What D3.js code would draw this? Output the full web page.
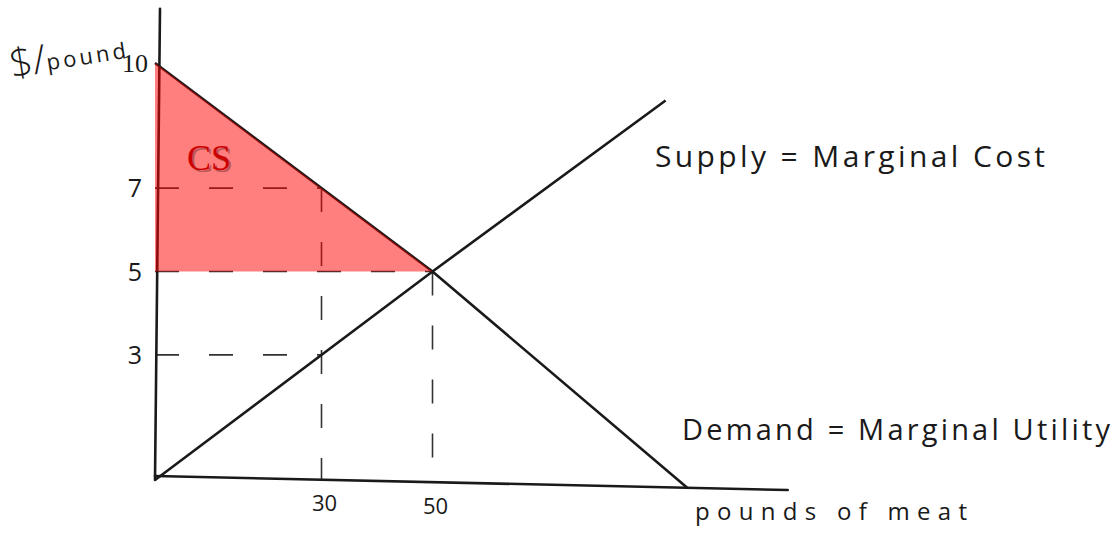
<!DOCTYPE html>
<html>
<head>
<meta charset="utf-8">
<script src="https://cdn.jsdelivr.net/npm/d3@7"></script>
<style>
  body { margin: 0; background: #fff; }
  svg { display: block; }
  .hand { font-family: "Open Sans", "DejaVu Sans", sans-serif; fill: #1a1a1a; }
</style>
</head>
<body>
<svg id="chart" width="1119" height="533"></svg>
<script>
// price ticks on the left, quantity ticks along the bottom
var priceTicks = [10, 7, 5, 3];
var qtyTicks = [30, 50];

// curves (q = pounds of meat, p = $/pound)
var demand = [{q: 0, p: 10}, {q: 50, p: 5}, {q: 96, p: -0.2}];
var supply = [{q: 0, p: 0}, {q: 50, p: 5}, {q: 92, p: 9.1}];

// dashed guide points
var guides = [{q: 30, p: 7}, {q: 30, p: 3}, {q: 50, p: 5}];

// consumer surplus triangle
var csArea = [{q: 0, p: 10}, {q: 50, p: 5}, {q: 0, p: 5}];

var axisMax = {q: 114, p: 11.3};

var svg = d3.select('#chart');

var x = d3.scaleLinear().domain([0, 100]).range([155, 710]);
var y = d3.scaleLinear().domain([0, 10]).range([480, 63]);

var line = d3.line()
	.x(function (d) { return x(d.q); })
	.y(function (d) { return y(d.p); });

// dashed guides
var dash = svg.append('g')
	.attr('stroke', '#333')
	.attr('stroke-width', 1.6)
	.attr('stroke-dasharray', '24,30')
	.attr('fill', 'none');

guides.forEach(function (g) {
	dash.append('line')
		.attr('x1', x(0)).attr('y1', y(g.p))
		.attr('x2', x(g.q)).attr('y2', y(g.p));
});
// vertical guides from the highest point of each quantity down to the axis
qtyTicks.forEach(function (q) {
	var top = d3.max(guides.filter(function (g) { return g.q == q; }), function (g) { return g.p; });
	dash.append('line')
		.attr('x1', x(q)).attr('y1', y(top))
		.attr('x2', x(q)).attr('y2', y(0));
});

// axes
var axes = svg.append('g')
	.attr('stroke', '#1a1a1a')
	.attr('stroke-width', 2.6)
	.attr('stroke-linecap', 'round');

axes.append('line')
	.attr('x1', x(0) + 5).attr('y1', y(axisMax.p))
	.attr('x2', x(0)).attr('y2', y(0));
axes.append('line')
	.attr('x1', x(0)).attr('y1', y(0) - 4)
	.attr('x2', x(axisMax.q)).attr('y2', y(0) + 10);

// curves
svg.append('path')
	.datum(demand)
	.attr('d', line)
	.attr('fill', 'none')
	.attr('stroke', '#1a1a1a')
	.attr('stroke-width', 2.6);

svg.append('path')
	.datum(supply)
	.attr('d', line)
	.attr('fill', 'none')
	.attr('stroke', '#1a1a1a')
	.attr('stroke-width', 2.6);

// consumer surplus overlay
svg.append('path')
	.datum(csArea)
	.attr('d', line.curve(d3.curveLinearClosed))
	.attr('fill', '#ff0000')
	.attr('fill-opacity', 0.5)
	.attr('stroke', 'none');

svg.append('text')
	.attr('x', 211).attr('y', 172)
	.attr('text-anchor', 'middle')
	.attr('font-family', '"Liberation Serif", serif')
	.attr('font-size', 36)
	.attr('fill', '#7a2a2a')
	.attr('opacity', 0.5)
	.text('CS');
svg.append('text')
	.attr('x', 209).attr('y', 170)
	.attr('text-anchor', 'middle')
	.attr('font-family', '"Liberation Serif", serif')
	.attr('font-size', 36)
	.attr('fill', '#cc0000')
	.text('CS');

// price tick labels
svg.selectAll('.ptick')
	.data(priceTicks)
	.enter()
	.append('text')
	.attr('class', function (d) { return d == 10 ? 'ptick' : 'ptick hand'; })
	.attr('x', function (d) { return d == 10 ? 148 : 142; })
	.attr('y', function (d) { return y(d) + 9; })
	.attr('text-anchor', 'end')
	.attr('font-family', function (d) { return d == 10 ? '"Liberation Serif", serif' : null; })
	.attr('font-size', function (d) { return d == 10 ? 26 : 25; })
	.attr('fill', '#1a1a1a')
	.text(function (d) { return d; });

// quantity tick labels
svg.selectAll('.qtick')
	.data(qtyTicks)
	.enter()
	.append('text')
	.attr('class', 'qtick hand')
	.attr('x', function (d) { return x(d) + 3; })
	.attr('y', function (d, i) { return y(0) + 31 + i * 3; })
	.attr('text-anchor', 'middle')
	.attr('font-size', 22)
	.text(function (d) { return d; });

// axis titles
var yTitle = svg.append('text')
	.attr('class', 'hand')
	.attr('transform', 'translate(12,78) rotate(-9)');
yTitle.append('tspan').attr('font-size', 40).attr('font-weight', 300).text('$');
yTitle.append('tspan').attr('font-size', 40).attr('font-weight', 300).text('/');
yTitle.append('tspan').attr('font-size', 22).attr('dy', -2).attr('textLength', 80).text('pound');

svg.append('text')
	.attr('class', 'hand')
	.attr('x', 695).attr('y', 520)
	.attr('font-size', 24)
	.attr('textLength', 272)
	.text('pounds  of  meat');

// curve labels
svg.append('text')
	.attr('class', 'hand')
	.attr('x', 655).attr('y', 167)
	.attr('font-size', 30)
	.attr('textLength', 390)
	.text('Supply  =  Marginal  Cost');

svg.append('text')
	.attr('class', 'hand')
	.attr('x', 682).attr('y', 440)
	.attr('font-size', 29)
	.attr('textLength', 428)
	.text('Demand  =  Marginal  Utility');
</script>
</body>
</html>
